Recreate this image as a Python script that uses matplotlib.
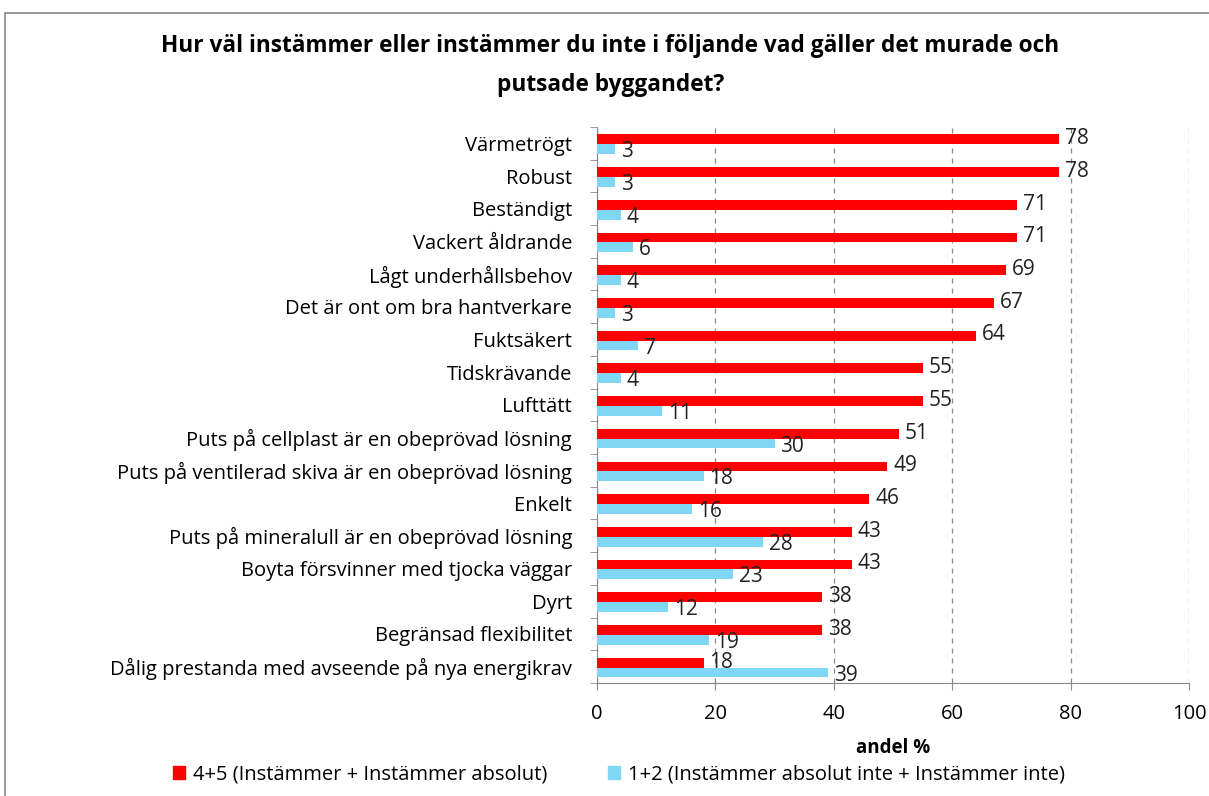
import matplotlib.pyplot as plt
import numpy as np
from matplotlib.patches import Patch

plt.rcParams['font.family'] = ['Open Sans', 'DejaVu Sans']

categories = ['Värmetrögt', 'Robust', 'Beständigt', 'Vackert åldrande',
              'Lågt underhållsbehov', 'Det är ont om bra hantverkare',
              'Fuktsäkert', 'Tidskrävande', 'Lufttätt',
              'Puts på cellplast är en obeprövad lösning',
              'Puts på ventilerad skiva är en obeprövad lösning',
              'Enkelt', 'Puts på mineralull är en obeprövad lösning',
              'Boyta försvinner med tjocka väggar', 'Dyrt',
              'Begränsad flexibilitet',
              'Dålig prestanda med avseende på nya energikrav']
agree = [78, 78, 71, 71, 69, 67, 64, 55, 55, 51, 49, 46, 43, 43, 38, 38, 18]
disagree = [3, 3, 4, 6, 4, 3, 7, 4, 11, 30, 18, 16, 28, 23, 12, 19, 39]
x_ticks = [0, 20, 40, 60, 80, 100]

agree_label = '4+5 (Instämmer + Instämmer absolut)'
disagree_label = '1+2 (Instämmer absolut inte + Instämmer inte)'
red = '#ff0000'
blue = '#80d6f5'

fig = plt.figure(figsize=(12.09, 7.96), dpi=100)
ax = fig.add_axes([0.4938, 0.142, 0.4897, 0.6985])

y = np.arange(len(categories))
h = 0.3
ax.barh(y - 0.12, agree, height=h, color=red, zorder=3)
ax.barh(y + 0.18, disagree, height=h, color=blue, zorder=3)

for yi, v in zip(y, agree):
    ax.text(v + 1, yi - 0.14, str(v), va='center', ha='left', fontsize=15, color='#222222')
for yi, v in zip(y, disagree):
    ax.text(v + 1, yi + 0.26, str(v), va='center', ha='left', fontsize=15, color='#222222')

ax.set_xlim(0, 100)
ax.set_ylim(len(categories) - 0.5, -0.5)
ax.set_xticks(x_ticks)
ax.set_xticklabels([str(t) for t in x_ticks], fontsize=14.5)
ax.set_yticks(y)
ax.set_yticklabels(categories, fontsize=14.5)
ax.tick_params(axis='y', length=0, pad=18)
ax.set_yticks(np.arange(len(categories) + 1) - 0.5, minor=True)
ax.tick_params(axis='y', which='minor', length=5, color='#888888')
ax.tick_params(axis='x', length=5, color='#888888', pad=10)

ax.grid(axis='x', linestyle=(0, (4, 4)), color='#888888', linewidth=0.9, zorder=0)
for s in ['top', 'right']:
    ax.spines[s].set_visible(False)
for s in ['left', 'bottom']:
    ax.spines[s].set_color('#888888')

ax.set_xlabel('andel %', fontsize=13.5, fontweight='bold', labelpad=10)

fig.suptitle('Hur väl instämmer eller instämmer du inte i följande vad gäller det murade och\nputsade byggandet?',
             x=0.505, y=0.957, fontsize=16.3, fontweight='bold', linespacing=1.8)

handles = [Patch(color=red), Patch(color=blue)]
fig.legend(handles, [agree_label, disagree_label], loc='center', bbox_to_anchor=(0.512, 0.027),
           ncol=2, frameon=False, fontsize=14.5, handlelength=0.6, handleheight=0.6,
           handletextpad=0.4, columnspacing=3.0)

# outer border like the source chart
fig.patches.append(plt.Rectangle((0.004, -0.01), 1.2, 0.994, transform=fig.transFigure,
                                 fill=False, edgecolor='#888888', linewidth=1.2))

fig.savefig('out.png', dpi=100)
